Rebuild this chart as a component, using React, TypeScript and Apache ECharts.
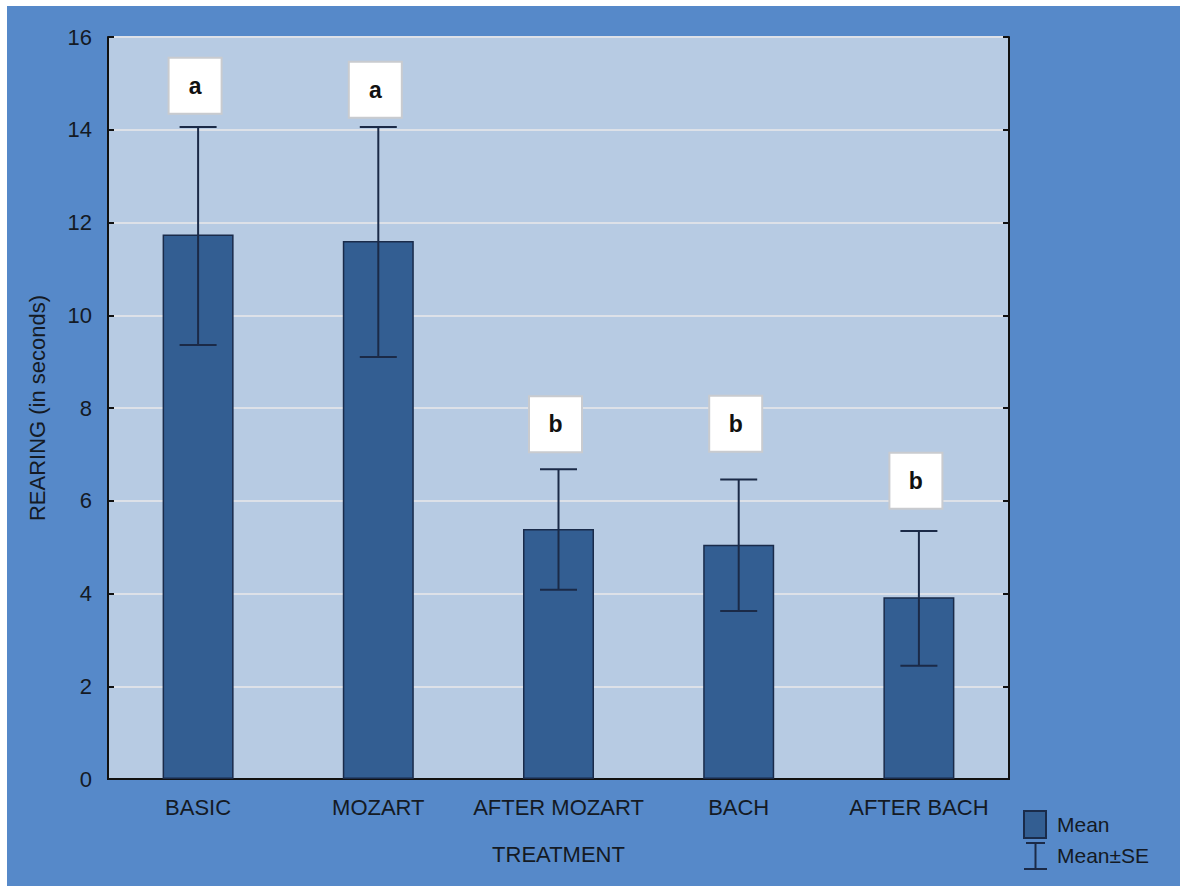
import React, { useEffect, useRef } from "react";
import * as echarts from "echarts";

const categories = ["BASIC", "MOZART", "AFTER MOZART", "BACH", "AFTER BACH"];
const means = [11.74, 11.6, 5.39, 5.05, 3.92];
const seLow = [9.36, 9.1, 4.08, 3.62, 2.44];
const seHigh = [14.06, 14.06, 6.68, 6.46, 5.35];
const letters = ["a", "a", "b", "b", "b"];
const letterPos = [14.95, 14.86, 7.65, 7.66, 6.43];
const yTicks = [0, 2, 4, 6, 8, 10, 12, 14, 16];

const FONT = "'Liberation Sans', Arial, sans-serif";
const TEXT = "#141a24";
const BAR = "#335e92";
const BAR_EDGE = "#1a2b4a";
const ERR = "#1b2a47";

export default function App() {
  const ref = useRef<HTMLDivElement>(null);
  useEffect(() => {
    if (!ref.current) return;
    const chart = echarts.init(ref.current, undefined, { renderer: "svg" });
    const option: any = {
      animation: false,
      backgroundColor: "#5689c9",
      textStyle: { fontFamily: FONT },
      grid: {
        left: 101,
        top: 31,
        right: 171,
        bottom: 107,
        show: true,
        backgroundColor: "#b7cbe3",
        borderWidth: 0,
      },
      xAxis: [
        {
          type: "category",
          data: categories,
          position: "bottom",
          name: "TREATMENT",
          nameLocation: "middle",
          nameGap: 64,
          nameTextStyle: { fontSize: 22, color: TEXT, fontFamily: FONT },
          axisLine: { lineStyle: { color: "#111", width: 2 } },
          axisTick: { inside: true, alignWithLabel: true, length: 6, lineStyle: { color: "#111", width: 2 } },
          axisLabel: { interval: 0, fontSize: 22, color: TEXT, margin: 17, fontFamily: FONT },
          splitLine: { show: false },
        },
        {
          type: "category",
          data: categories,
          position: "top",
          axisLine: { lineStyle: { color: "#111", width: 2 } },
          axisTick: { inside: true, alignWithLabel: true, length: 6, lineStyle: { color: "#111", width: 2 } },
          axisLabel: { show: false },
          splitLine: { show: false },
        },
      ],
      yAxis: [
        {
          type: "value",
          min: yTicks[0],
          max: yTicks[yTicks.length - 1],
          interval: 2,
          position: "left",
          name: "REARING (in seconds)",
          nameLocation: "middle",
          nameGap: 60,
          nameTextStyle: { fontSize: 22, color: TEXT, fontFamily: FONT },
          axisLine: { show: true, lineStyle: { color: "#111", width: 2 } },
          axisTick: { show: true, inside: true, length: 6, lineStyle: { color: "#111", width: 2 } },
          axisLabel: { fontSize: 22, color: TEXT, margin: 16, fontFamily: FONT },
          splitLine: { show: true, lineStyle: { color: "#dde1e8", width: 2 } },
        },
        {
          type: "value",
          min: yTicks[0],
          max: yTicks[yTicks.length - 1],
          interval: 2,
          position: "right",
          axisLine: { show: true, lineStyle: { color: "#111", width: 2 } },
          axisTick: { show: true, inside: true, length: 6, lineStyle: { color: "#111", width: 2 } },
          axisLabel: { show: false },
          splitLine: { show: false },
        },
      ],
      series: [
        {
          type: "bar",
          name: "Mean",
          data: means,
          barWidth: 71,
          itemStyle: { color: BAR, borderColor: BAR_EDGE, borderWidth: 1.5 },
          z: 2,
        },
        {
          type: "custom",
          name: "Mean±SE",
          data: categories.map((_, i) => [i, seLow[i], seHigh[i]]),
          encode: { x: 0, y: [1, 2] },
          z: 3,
          renderItem: (params: any, api: any) => {
            const i = api.value(0);
            const lo = api.coord([i, api.value(1)]);
            const hi = api.coord([i, api.value(2)]);
            const half = 18.5;
            const style = { stroke: ERR, lineWidth: 2 };
            return {
              type: "group",
              children: [
                { type: "line", shape: { x1: lo[0], y1: lo[1], x2: hi[0], y2: hi[1] }, style },
                { type: "line", shape: { x1: hi[0] - half, y1: hi[1], x2: hi[0] + half, y2: hi[1] }, style },
                { type: "line", shape: { x1: lo[0] - half, y1: lo[1], x2: lo[0] + half, y2: lo[1] }, style },
              ],
            };
          },
        },
        {
          type: "custom",
          name: "letters",
          data: categories.map((_, i) => [i, letterPos[i]]),
          encode: { x: 0, y: 1 },
          z: 4,
          renderItem: (params: any, api: any) => {
            const i = api.value(0);
            const p = api.coord([i, api.value(1)]);
            const w = 53;
            const h = 56;
            return {
              type: "group",
              children: [
                {
                  type: "rect",
                  shape: { x: p[0] - w / 2 - 3, y: p[1] - h / 2, width: w, height: h },
                  style: { fill: "#ffffff", stroke: "#c9cbcf", lineWidth: 2 },
                },
                {
                  type: "text",
                  x: p[0] - 3,
                  y: p[1],
                  style: {
                    text: letters[params.dataIndex],
                    fontSize: 23,
                    fontWeight: "bold",
                    fontFamily: FONT,
                    fill: "#111",
                    align: "center",
                    verticalAlign: "middle",
                  },
                },
              ],
            };
          },
        },
      ],
      graphic: [
        {
          type: "rect",
          shape: { x: 1017, y: 805, width: 22, height: 27 },
          style: { fill: BAR, stroke: BAR_EDGE, lineWidth: 2 },
        },
        { type: "line", shape: { x1: 1019, y1: 837, x2: 1038, y2: 837 }, style: { stroke: ERR, lineWidth: 2 } },
        { type: "line", shape: { x1: 1028.5, y1: 837, x2: 1028.5, y2: 863 }, style: { stroke: ERR, lineWidth: 2 } },
        { type: "line", shape: { x1: 1017, y1: 863, x2: 1040, y2: 863 }, style: { stroke: ERR, lineWidth: 2 } },
        {
          type: "text",
          x: 1050,
          y: 818,
          style: { text: "Mean", fontSize: 21, fontFamily: FONT, fill: TEXT, align: "left", verticalAlign: "middle" },
        },
        {
          type: "text",
          x: 1050,
          y: 849,
          style: { text: "Mean±SE", fontSize: 21, fontFamily: FONT, fill: TEXT, align: "left", verticalAlign: "middle" },
        },
      ],
    };
    chart.setOption(option);
    return () => chart.dispose();
  }, []);
  return (
    <div
      ref={ref}
      style={{ position: "absolute", left: 7, top: 6, width: 1173, height: 880 }}
    />
  );
}
